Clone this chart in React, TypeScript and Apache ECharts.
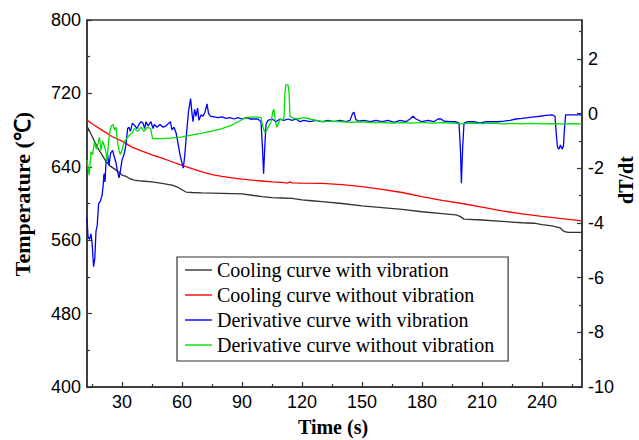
import React, { useEffect, useRef } from 'react';
import * as echarts from 'echarts';

// ---- data (time s, value) ----
const coolingWithVibration: [number, number][] = [
  [12.5, 684], [14, 678], [16, 669], [18, 660], [20, 653], [22, 646], [24, 641], [26, 638], [28, 635], [30, 631],
  [32, 629.5], [34, 627], [36, 625.5], [40, 624.5], [45, 623.5], [50, 622], [55, 620], [58, 617.5], [60, 615], [62, 612.5],
  [65, 612], [70, 611.5], [80, 611], [90, 610.5], [95, 609], [100, 607.5], [105, 606.5], [110, 606], [115, 605.5], [120, 604],
  [125, 603], [130, 602], [140, 600], [150, 597.5], [160, 595.5], [170, 593.5], [180, 591], [190, 589], [197, 587.5], [199, 586],
  [201, 583], [210, 582], [220, 580.5], [230, 579], [236, 578.5], [240, 577], [245, 575.5], [249, 573.5], [251, 569.5], [253, 568.5],
  [260, 568.5],
];

const coolingWithoutVibration: [number, number][] = [
  [12.5, 691], [15, 687], [20, 680], [25, 673], [30, 668], [35, 661.5], [40, 657], [45, 653], [50, 649.5], [55, 645.5],
  [60, 641.5], [65, 638], [70, 634.5], [75, 631.5], [80, 629.5], [85, 628], [90, 626.5], [95, 625.5], [100, 624.5], [105, 623.5],
  [110, 623], [113, 622.3], [114, 623.5], [115, 622.5], [120, 622.3], [130, 622], [140, 620.5], [150, 618.5], [160, 615.5],
  [170, 612], [180, 607.5], [190, 603.5], [200, 600], [210, 596], [220, 592], [230, 588.8], [240, 586], [250, 583.5], [260, 581],
];

const derivativeWithVibration: [number, number][] = [
  [12.5, -3.8], [13.0, -4.5], [13.8, -4.6], [14.5, -4.4], [15.0, -4.7], [15.8, -5.6], [16.4, -5.3], [17.0, -4.3], [17.6, -4.1],
  [18.3, -3.3], [19.2, -3.2], [20.0, -3.0], [20.5, -2.7], [21.0, -2.2], [21.5, -2.5], [22.0, -1.8], [22.8, -1.5], [23.5, -1.9],
  [24.3, -1.45], [25.3, -1.35], [26.2, -1.6], [27.0, -1.8], [27.7, -2.1], [28.5, -2.35], [29.2, -2.1], [30.0, -1.7], [31.0, -1.5],
  [32.0, -1.15], [32.8, -0.55], [33.5, -0.5], [34.2, -0.65], [35.2, -0.35], [36.5, -0.45], [37.5, -0.55], [38.5, -0.4],
  [39.5, -0.3], [40.5, -0.35], [41.3, -0.55], [42.0, -0.3], [43.0, -0.45], [44.5, -0.3], [45.5, -0.55], [46.2, -0.4],
  [47.5, -0.5], [49.0, -0.4], [50.5, -0.5], [52.0, -0.45], [53.5, -0.35], [54.2, -0.3], [55.0, -0.6], [56.0, -0.5],
  [57.0, -0.7], [57.8, -1.0], [59.0, -1.5], [59.8, -1.75], [60.6, -2.0], [61.3, -1.6], [62.3, -0.7], [63.3, 0.1], [64.3, 0.55],
  [65.0, 0.0], [65.5, -0.3], [66.3, 0.15], [67.0, -0.1], [67.8, 0.2], [68.5, -0.25], [69.5, -0.05], [70.5, -0.1], [71.5, 0.05],
  [72.5, 0.35], [73.3, 0.0], [74.2, -0.1], [76, -0.12], [78, -0.15], [80, -0.12], [82, -0.18], [84, -0.15], [86, -0.2],
  [88, -0.15], [90, -0.2], [92, -0.15], [94, -0.2], [96, -0.2], [98, -0.2], [99.5, -0.3], [100.2, -1.2], [100.8, -2.2],
  [101.4, -1.2], [102, -0.4], [103, -0.25], [105, -0.2], [107, -0.3], [109, -0.2], [111, -0.25], [113, -0.2], [115, -0.25],
  [117, -0.2], [119, -0.3], [121, -0.25], [124, -0.3], [127, -0.25], [130, -0.3], [133, -0.25], [136, -0.3], [139, -0.25],
  [142, -0.3], [144, -0.25], [145.3, 0.0], [146, 0.05], [146.8, -0.2], [148, -0.28], [151, -0.25], [154, -0.3], [157, -0.25],
  [160, -0.3], [163, -0.25], [166, -0.32], [169, -0.25], [172, -0.3], [174, -0.2], [175.5, -0.1], [177, -0.2], [180, -0.3],
  [183, -0.25], [186, -0.3], [188, -0.2], [189.5, -0.2], [191, -0.28], [194, -0.3], [197, -0.3], [198.5, -0.35], [199.2, -1.3],
  [199.7, -2.55], [200.3, -1.3], [201, -0.35], [203, -0.3], [206, -0.3], [209, -0.35], [212, -0.3], [215, -0.3], [218, -0.3],
  [221, -0.28], [224, -0.25], [227, -0.2], [230, -0.18], [233, -0.15], [236, -0.12], [239, -0.1], [242, -0.07], [245, -0.05],
  [246.5, -0.1], [247.2, -0.8], [247.8, -1.25], [248.5, -1.3], [249.2, -1.15], [250, -1.3], [250.7, -1.2], [251.3, -0.5],
  [251.8, -0.05], [255, -0.05], [260, -0.05],
];

const derivativeWithoutVibration: [number, number][] = [
  [12.5, -1.7], [13.0, -1.95], [13.6, -2.25], [14.5, -1.4], [15.3, -1.5], [16.2, -1.05], [17.2, -1.3], [18.0, -1.1],
  [18.7, -0.86], [19.5, -1.35], [20.3, -1.0], [21.0, -1.15], [22.0, -1.4], [22.5, -1.77], [23.3, -1.0], [24.2, -0.55],
  [24.8, -0.45], [25.6, -0.4], [26.3, -0.6], [27.0, -0.5], [27.7, -1.0], [28.5, -1.35], [29.2, -1.5], [30.2, -1.3],
  [31.0, -1.05], [32.0, -0.95], [33.6, -0.8], [35.0, -0.72], [36.2, -0.55], [37.8, -0.65], [39.5, -0.5], [41.0, -0.65],
  [42.8, -0.5], [44.3, -0.55], [45.3, -0.92], [47, -0.92], [49.5, -0.92], [54, -0.9], [59.5, -0.86], [66, -0.77], [70, -0.72],
  [75, -0.64], [80, -0.55], [85, -0.42], [88, -0.3], [91, -0.18], [94, -0.13], [97, -0.12], [99.5, -0.15], [100.5, -0.5],
  [101.5, -0.7], [102.5, -0.6], [103.5, -0.45], [104.5, -0.3], [105.5, 0.1], [106, 0.15], [106.7, -0.3], [107.5, -0.5],
  [108.3, -0.35], [109.2, -0.2], [110, -0.25], [111, -0.15], [111.5, 0.8], [112, 1.05], [113, 1.05], [113.5, 0.8], [114, -0.1],
  [115, -0.15], [118, -0.2], [121, -0.15], [124, -0.2], [127, -0.25], [130, -0.3], [135, -0.28], [140, -0.3], [145, -0.32],
  [150, -0.3], [155, -0.33], [160, -0.32], [165, -0.35], [170, -0.33], [175, -0.35], [180, -0.32], [185, -0.35], [190, -0.33],
  [195, -0.35], [200, -0.38], [205, -0.35], [210, -0.37], [215, -0.35], [220, -0.38], [225, -0.36], [230, -0.38], [235, -0.36],
  [240, -0.38], [245, -0.37], [250, -0.38], [255, -0.37], [260, -0.38],
];

const seriesNames = [
  'Cooling curve with vibration',
  'Cooling curve without vibration',
  'Derivative curve with vibration',
  'Derivative curve without vibration',
];

// ---- tick labels ----
const timeTicks = [30, 60, 90, 120, 150, 180, 210, 240];
const timeMinorTicks = [15, 45, 75, 105, 135, 165, 195, 225, 255];
const tempTicks = [400, 480, 560, 640, 720, 800];
const tempMinorTicks = [440, 520, 600, 680, 760];
const rateTicks = [-10, -8, -6, -4, -2, 0, 2];
const rateMinorTicks = [-9, -7, -5, -3, -1, 1, 3];

const AXIS_COLOR = '#333';
const labelFont = { color: '#000', fontFamily: 'Liberation Sans, Arial, sans-serif', fontSize: 18 };
const titleFont = { fill: '#000', fontFamily: 'Liberation Serif, Times New Roman, serif', fontSize: 20, fontWeight: 'bold' as const };

function mainAxis(extra: any, ticks: number[]) {
  return {
    type: 'value',
    axisLine: { show: true, onZero: false, lineStyle: { color: AXIS_COLOR, width: 1.5 } },
    axisTick: { show: true, inside: true, length: 5, customValues: ticks, lineStyle: { color: AXIS_COLOR, width: 1.2 } },
    axisLabel: { show: true, customValues: ticks, ...labelFont, margin: 6 },
    splitLine: { show: false },
    ...extra,
  };
}

function minorAxis(extra: any, ticks: number[]) {
  return {
    type: 'value',
    axisLine: { show: false, onZero: false },
    axisTick: { show: true, inside: true, length: 3, customValues: ticks, lineStyle: { color: AXIS_COLOR, width: 1.2 } },
    axisLabel: { show: false },
    splitLine: { show: false },
    ...extra,
  };
}

export default function App() {
  const ref = useRef<HTMLDivElement>(null);
  useEffect(() => {
    const chart = echarts.init(ref.current!, null, { renderer: 'svg' });
    const lineSeries = (name: string, data: [number, number][], color: string, yAxisIndex: number) => ({
      name,
      type: 'line',
      data,
      xAxisIndex: 0,
      yAxisIndex,
      symbol: 'none',
      showSymbol: false,
      color,
      itemStyle: { color },
      lineStyle: { color, width: 1.3 },
      silent: true,
    });
    chart.setOption({
      animation: false,
      backgroundColor: '#fff',
      grid: { left: 87, right: 57, top: 20, bottom: 53, show: true, borderColor: AXIS_COLOR, borderWidth: 1.5, backgroundColor: 'transparent' },
      xAxis: [
        mainAxis({ position: 'bottom', min: 12.5, max: 260 }, timeTicks),
        minorAxis({ position: 'bottom', min: 12.5, max: 260 }, timeMinorTicks),
      ],
      yAxis: [
        mainAxis({ position: 'left', min: 400, max: 800 }, tempTicks),
        mainAxis({ position: 'right', min: -10, max: 3.42 }, rateTicks),
        minorAxis({ position: 'left', min: 400, max: 800 }, tempMinorTicks),
        minorAxis({ position: 'right', min: -10, max: 3.42 }, rateMinorTicks),
      ],
      legend: {
        data: seriesNames.map((name) => ({ name, icon: 'rect' })),
        orient: 'vertical',
        left: 177,
        top: 257,
        itemWidth: 27,
        itemHeight: 1.4,
        itemGap: 5,
        padding: [3, 14, 6, 8],
        borderColor: AXIS_COLOR,
        borderWidth: 1.2,
        backgroundColor: '#fff',
        textStyle: { fontFamily: 'Liberation Serif, Times New Roman, serif', fontSize: 20, color: '#000', lineHeight: 20 },
      },
      series: [
        lineSeries(seriesNames[0], coolingWithVibration, '#333333', 0),
        lineSeries(seriesNames[1], coolingWithoutVibration, '#ff0000', 0),
        lineSeries(seriesNames[2], derivativeWithVibration, '#0000ff', 1),
        lineSeries(seriesNames[3], derivativeWithoutVibration, '#00e000', 1),
      ],
      graphic: [
        { type: 'text', x: 22, y: 194, rotation: Math.PI / 2, style: { text: 'Temperature (℃)', ...titleFont, fontSize: 22, align: 'center', verticalAlign: 'middle' } },
        { type: 'text', x: 333, y: 427, style: { text: 'Time (s)', ...titleFont, align: 'center', verticalAlign: 'middle' } },
        { type: 'text', x: 626, y: 180, rotation: Math.PI / 2, style: { text: 'dT/dt', ...titleFont, align: 'center', verticalAlign: 'middle' } },
      ],
    });
    return () => chart.dispose();
  }, []);
  return <div ref={ref} style={{ position: 'fixed', left: 0, top: 0, width: 639, height: 440, background: '#fff' }} />;
}
